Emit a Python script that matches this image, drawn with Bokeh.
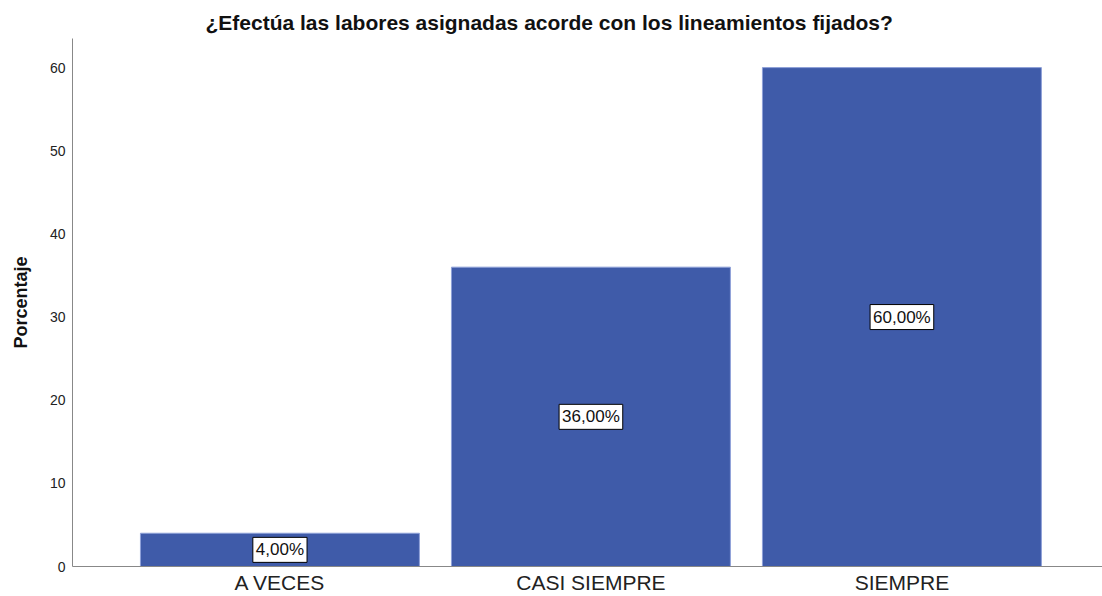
from bokeh.plotting import figure
from bokeh.models import ColumnDataSource, FixedTicker, Range1d, Title
from bokeh.core.properties import value
from bokeh.embed import file_html
from bokeh.resources import INLINE

categories = ["A VECES", "CASI SIEMPRE", "SIEMPRE"]
values = [4.0, 36.0, 60.0]
labels = ["4,00%", "36,00%", "60,00%"]
y_ticks = [0, 10, 20, 30, 40, 50, 60]

xs = list(range(1, len(categories) + 1))
src = ColumnDataSource(dict(x=xs, top=values, mid=[v / 2 for v in values], lab=labels))

p = figure(width=1102, height=596, output_backend="svg", toolbar_location=None,
           x_range=Range1d(0.333, 3.645), y_range=Range1d(0, 63.5),
           min_border_left=72, min_border_right=0, min_border_bottom=30, min_border_top=38)
p.title = Title(text="¿Efectúa las labores asignadas acorde con los lineamientos fijados?",
                align="left", text_font="Liberation Sans", text_font_size="21px",
                text_font_style="bold", text_color="#111111", offset=133)
p.vbar(x="x", top="top", width=0.897, source=src, fill_color="#3f5ba9",
       line_color="#8ea0d8", line_width=1)
p.text(x="x", y="mid", text="lab", source=src, text_align="center",
       text_baseline="middle", text_font=value("Liberation Sans"), text_font_size="17px",
       text_color="#111111", background_fill_color="white",
       border_line_color="black", border_line_width=1, padding=3)

p.xgrid.visible = False
p.ygrid.visible = False
p.outline_line_color = None

p.xaxis.ticker = FixedTicker(ticks=xs)
p.xaxis.major_label_overrides = {x: c for x, c in zip(xs, categories)}
p.xaxis.major_label_text_font = "Liberation Sans"
p.xaxis.major_label_text_font_size = "21px"
p.xaxis.major_label_text_color = "#222222"
p.xaxis.major_label_standoff = 4
p.yaxis.ticker = FixedTicker(ticks=y_ticks)
p.yaxis.major_label_text_font = "Liberation Sans"
p.yaxis.major_label_text_font_size = "14px"
p.yaxis.major_label_text_color = "#222222"
p.yaxis.major_label_standoff = 7
p.yaxis.axis_label = "Porcentaje"
p.yaxis.axis_label_text_font = "Liberation Sans"
p.yaxis.axis_label_text_font_size = "18px"
p.yaxis.axis_label_text_font_style = "bold"
p.yaxis.axis_label_text_color = "#111111"
p.yaxis.axis_label_standoff = 16
for ax in (p.xaxis, p.yaxis):
    ax.axis_line_color = "#888888"
    ax.major_tick_line_color = None
    ax.minor_tick_line_color = None
    ax.major_tick_out = 0
    ax.major_tick_in = 0
    ax.minor_tick_out = 0

open("out.html", "w").write(file_html(p, INLINE))
